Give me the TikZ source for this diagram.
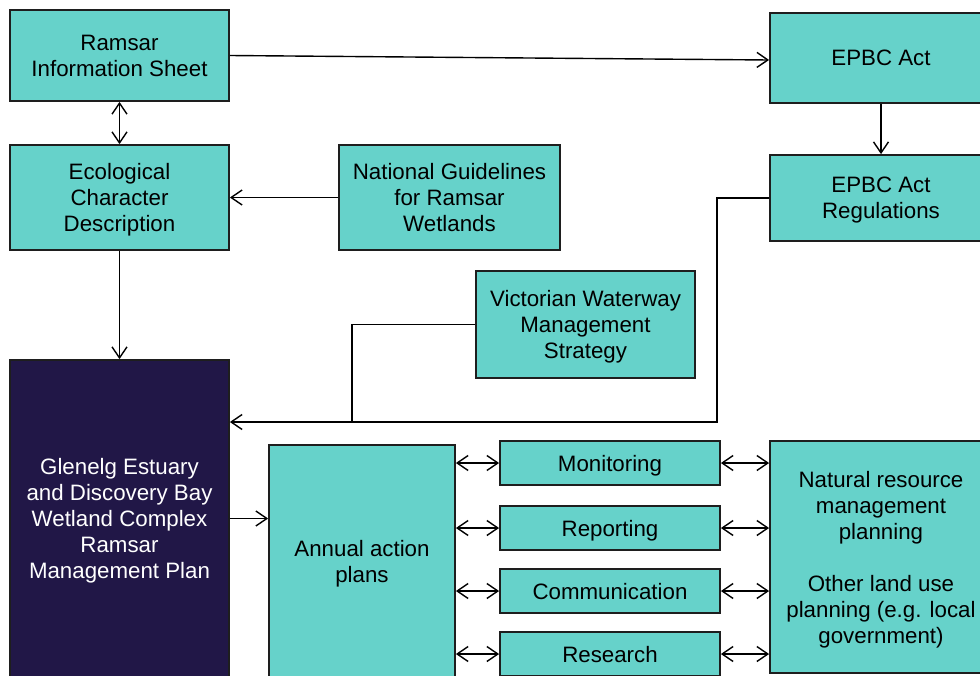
\documentclass[tikz,border=0pt]{standalone}
\usepackage{fontspec}
\setmainfont{Liberation Sans}
\usetikzlibrary{arrows.meta}
\definecolor{teal1}{RGB}{102,210,202}
\definecolor{navy1}{RGB}{33,23,71}
\definecolor{edge1}{RGB}{30,30,30}
\begin{document}
\begin{tikzpicture}[x=1pt,y=-1pt,
  box/.style={draw=edge1,line width=1.8pt,fill=teal1,inner sep=0pt,align=center,
    text depth=0pt,font=\fontsize{22.3pt}{26pt}\selectfont},
  darkbox/.style={box,fill=navy1,text=white},
  arr/.style={line width=1.4pt,-{Straight Barb[length=11pt,width=15pt,line width=1.4pt]}},
  darr/.style={line width=1.4pt,{Straight Barb[length=11pt,width=15pt,line width=1.4pt]}-{Straight Barb[length=11pt,width=15pt,line width=1.4pt]}},
  line1/.style={line width=1.4pt}]
\useasboundingbox (0,0) rectangle (980,675);
\clip (0,0) rectangle (980,675);
\fill[white] (0,0) rectangle (980,675);
% boxes
\node[box,minimum width=219pt,minimum height=91pt] (ris) at (119.5,55.5) {Ramsar\\Information Sheet};
\node[box,minimum width=219pt,minimum height=105pt] (ecd) at (119.5,197.5) {Ecological\\Character\\Description};
\node[box,minimum width=221pt,minimum height=105pt] (ng) at (449.5,197.5) {National Guidelines\\for Ramsar\\Wetlands};
\node[box,minimum width=219pt,minimum height=107pt] (vw) at (585.5,324.5) {Victorian Waterway\\Management\\Strategy};
\node[box,minimum width=222pt,minimum height=90pt] (epbc) at (881,58) {EPBC Act};
\node[box,minimum width=222pt,minimum height=86pt] (reg) at (881,198) {EPBC Act\\Regulations};
\node[darkbox,minimum width=219pt,minimum height=317pt] (gmp) at (119.5,518.5) {Glenelg Estuary\\and Discovery Bay\\Wetland Complex\\Ramsar\\Management Plan};
\node[box,minimum width=186pt,minimum height=233pt] (aap) at (362,561.5) {Annual action\\plans};
\node[box,minimum width=220pt,minimum height=44pt] (mon) at (610,463) {Monitoring};
\node[box,minimum width=220pt,minimum height=44pt] (rep) at (610,528) {Reporting};
\node[box,minimum width=220pt,minimum height=44pt] (com) at (610,591) {Communication};
\node[box,minimum width=220pt,minimum height=44pt] (res) at (610,654) {Research};
\node[box,minimum width=222pt,minimum height=232pt] (nrm) at (881,557) {Natural resource\\management\\planning\\[26pt]Other land use\\planning (e.g. local\\government)};
% junction points
\coordinate (m1) at (352,422);
\coordinate (m2) at (717,422);
% connectors
\draw[darr] (ris.south) -- (ecd.north);
\draw[arr] (ris.east) -- ([yshift=-2pt]epbc.west);
\draw[arr] (epbc.south) -- (reg.north);
\draw[arr] (ng.west) -- (ecd.east);
\draw[arr] (ecd.south) -- (gmp.north);
\draw[line1] (vw.west) -| (m1);
\draw[arr] (reg.west) -| (m2) -- (m2 -| gmp.east);
\draw[arr] (gmp.east) -- (gmp.east -| aap.west);
\foreach \b in {mon,rep,com,res}{
  \draw[darr] (\b.west -| aap.east) -- (\b.west);
  \draw[darr] (\b.east) -- (\b.east -| nrm.west);
}
\end{tikzpicture}
\end{document}
